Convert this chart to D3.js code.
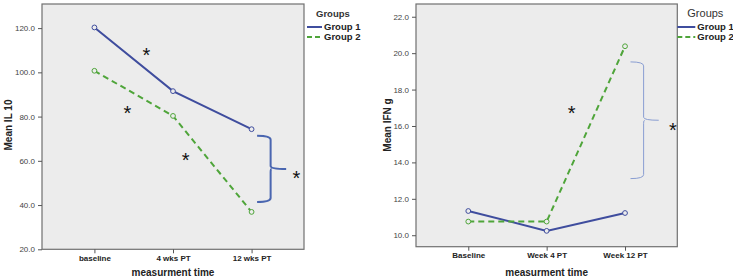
<!DOCTYPE html>
<html>
<head>
<meta charset="utf-8">
<script src="https://cdn.jsdelivr.net/npm/d3@7"></script>
<style>
  body { margin: 0; background: #fff; }
  svg { display: block; font-family: "Liberation Sans", Arial, sans-serif; }
</style>
</head>
<body>
<svg id="chart" width="733" height="278"></svg>
<script>
// left panel: IL 10
const il10Times = ["baseline", "4 wks PT", "12 wks PT"];
const il10Group1 = [120.3, 91.5, 74.3];
const il10Group2 = [100.7, 80.3, 36.9];
const il10Ticks = [20, 40, 60, 80, 100, 120];
// asterisks [category index, value]
const il10Stars = [[0.66, 110.2], [0.42, 83.9], [1.16, 62.7], [2.57, 54.5]];
// bracket [index start, index tip, top value, bottom value]
const il10Bracket = [2.07, 2.44, 71.3, 41.4];

// right panel: IFN g
const ifnTimes = ["Baseline", "Week 4 PT", "Week 12 PT"];
const ifnGroup1 = [11.33, 10.24, 11.22];
const ifnGroup2 = [10.75, 10.75, 20.38];
const ifnTicks = [10, 12, 14, 16, 18, 20, 22];
const ifnStars = [[1.32, 16.99], [2.61, 16.08]];
const ifnBracket = [2.07, 2.43, 19.52, 13.11];

const groupNames = ["Group 1", "Group 2"];
const colors = ["#3f4d9e", "#4fa53a"];

const svg = d3.select("#chart");

function drawPanel(opt) {
    const g = svg.append("g").attr("transform", `translate(${opt.left},0)`);
    const w = opt.width, top = 4, bottom = opt.bottom;

    const x = d3.scalePoint()
        .domain(opt.times)
        .range([0, w])
        .padding(0.667);
    const xi = d3.scaleLinear()
        .domain([0, 2])
        .range([x(opt.times[0]), x(opt.times[2])]);
    const y = d3.scaleLinear()
        .domain(opt.yDomain)
        .range([bottom, top]);

    g.append("rect")
        .attr("x", 0).attr("y", top)
        .attr("width", w).attr("height", bottom - top)
        .attr("fill", "#ececec")
        .attr("stroke", "#707070")
        .attr("stroke-width", 1.2);

    const gy = g.append("g")
        .call(d3.axisLeft(y).tickValues(opt.ticks).tickFormat(d3.format(".1f")).tickSize(4).tickSizeOuter(0));
    gy.select(".domain").remove();
    gy.selectAll("line").attr("stroke", "#555");
    gy.selectAll("text").attr("font-size", 8).attr("fill", "#444")
        .attr("font-family", "Liberation Sans, Arial, sans-serif");

    const gx = g.append("g")
        .attr("transform", `translate(0,${bottom})`)
        .call(d3.axisBottom(x).tickSize(4).tickSizeOuter(0));
    gx.select(".domain").remove();
    gx.selectAll("line").attr("stroke", "#555");
    gx.selectAll("text").attr("font-size", 8).attr("font-weight", "bold").attr("fill", "#222")
        .attr("y", 6)
        .attr("font-family", "Liberation Sans, Arial, sans-serif");

    g.append("text")
        .attr("x", w / 2).attr("y", 275.5)
        .attr("text-anchor", "middle")
        .attr("font-size", 10).attr("font-weight", "bold").attr("fill", "#222")
        .text("measurment time");

    g.append("text")
        .attr("transform", `translate(${opt.yLabelX},125) rotate(-90)`)
        .attr("text-anchor", "middle")
        .attr("dy", "0.35em")
        .attr("font-size", 10).attr("font-weight", "bold").attr("fill", "#222")
        .text(opt.yLabel);

    const line = d3.line()
        .x((d, i) => x(opt.times[i]))
        .y(d => y(d));

    [opt.g1, opt.g2].forEach((vals, k) => {
        g.append("path")
            .datum(vals)
            .attr("d", line)
            .attr("fill", "none")
            .attr("stroke", colors[k])
            .attr("stroke-width", 2)
            .attr("stroke-dasharray", k === 1 ? "6,4" : null);
        g.selectAll(null)
            .data(vals)
            .enter().append("circle")
            .attr("cx", (d, i) => x(opt.times[i]))
            .attr("cy", d => y(d))
            .attr("r", 2.4)
            .attr("fill", "#ececec")
            .attr("stroke", colors[k])
            .attr("stroke-width", 1);
    });

    opt.stars.forEach(s => {
        g.append("text")
            .attr("x", xi(s[0])).attr("y", y(s[1]))
            .attr("dy", "0.62em")
            .attr("text-anchor", "middle")
            .attr("font-size", 20).attr("fill", "#111")
            .text("*");
    });

    const b = opt.bracket;
    const x0 = xi(b[0]), x2 = xi(b[1]), x1 = (x0 + x2) / 2 - 1;
    const yt = y(b[2]), yb = y(b[3]), ym = (yt + yb) / 2;
    const p = d3.path();
    p.moveTo(x0, yt);
    p.quadraticCurveTo(x1, yt, x1, yt + 4);
    p.lineTo(x1, ym - 3);
    p.quadraticCurveTo(x1, ym, x2, ym);
    p.moveTo(x1 + 1, ym);
    p.quadraticCurveTo(x1, ym, x1, ym + 3);
    p.lineTo(x1, yb - 4);
    p.quadraticCurveTo(x1, yb, x0, yb);
    g.append("path")
        .attr("d", p.toString())
        .attr("fill", "none")
        .attr("stroke", opt.bracketColor)
        .attr("stroke-width", opt.bracketWidth);

    // legend
    const lg = g.append("g").attr("transform", `translate(${w},0)`);
    lg.append("text")
        .attr("x", opt.legendTitleX).attr("y", 17)
        .attr("font-size", opt.legendTitleSize)
        .attr("font-weight", opt.legendTitleBold ? "bold" : "normal")
        .attr("fill", "#333")
        .text("Groups");
    groupNames.forEach((name, k) => {
        const ly = 27 + k * 10;
        lg.append("line")
            .attr("x1", opt.legendLineX0).attr("x2", opt.legendLineX1)
            .attr("y1", ly).attr("y2", ly)
            .attr("stroke", colors[k])
            .attr("stroke-width", 2)
            .attr("stroke-dasharray", k === 1 ? "5,3" : null);
        lg.append("text")
            .attr("x", opt.legendLineX1 + 2).attr("y", ly)
            .attr("dy", "0.35em")
            .attr("font-size", 9.5).attr("font-weight", "bold").attr("fill", "#222")
            .text(name);
    });
}

drawPanel({
    left: 42, width: 262, bottom: 249.3,
    times: il10Times, g1: il10Group1, g2: il10Group2,
    yDomain: [20, 130.9], ticks: il10Ticks,
    yLabel: "Mean IL 10", yLabelX: -34,
    stars: il10Stars, bracket: il10Bracket,
    bracketColor: "#4a66b0", bracketWidth: 2,
    legendTitleX: 12, legendTitleSize: 9.5, legendTitleBold: true,
    legendLineX0: 3, legendLineX1: 18
});

drawPanel({
    left: 416, width: 261.3, bottom: 246.7,
    times: ifnTimes, g1: ifnGroup1, g2: ifnGroup2,
    yDomain: [9.37, 22.7], ticks: ifnTicks,
    yLabel: "Mean IFN g", yLabelX: -29,
    stars: ifnStars, bracket: ifnBracket,
    bracketColor: "#8a9ed2", bracketWidth: 1,
    legendTitleX: 10, legendTitleSize: 11, legendTitleBold: false,
    legendLineX0: 0, legendLineX1: 18
});
</script>
</body>
</html>
